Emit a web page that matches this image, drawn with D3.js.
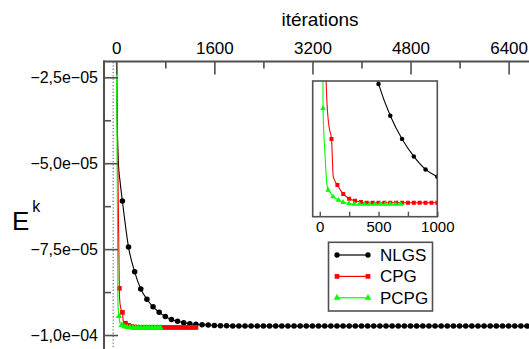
<!DOCTYPE html>
<html><head><meta charset="utf-8">
<script src="https://cdn.jsdelivr.net/npm/d3@7"></script>
<style>body{margin:0;background:#fff;} svg{display:block;font-family:"Liberation Sans",Arial,sans-serif;}</style>
</head><body><svg id="c" width="529" height="349"></svg>
<script>
// ---- data (energies in units of 1e-5) ----
const unit = 1e-5;
const seriesNames = ["NLGS", "CPG", "PCPG"];
const seriesColors = ["#000000", "#ff0000", "#00ff00"];

const nlgsIter = [100,200,300,400,500,600,700,800,900,1000,1100,1200,1300,1400,1500,1600,1700,1800,1900,2000,
  2100,2200,2300,2400,2500,2600,2700,2800,2900,3000,3100,3200,3300,3400,3500,3600,3700,3800,3900,4000,
  4100,4200,4300,4400,4500,4600,4700,4800,4900,5000,5100,5200,5300,5400,5500,5600,5700,5800,5900,6000,
  6100,6200,6300,6400,6500,6600,6700,6800,6900,7000];
const nlgsVal = [-6.10,-7.44,-8.16,-8.66,-8.96,-9.18,-9.34,-9.46,-9.55,-9.60,-9.64,-9.67,-9.69,-9.70,-9.71,-9.72,-9.73,-9.73,-9.74,-9.74,
  -9.74,-9.74,-9.74,-9.74,-9.74,-9.74,-9.74,-9.74,-9.74,-9.74,-9.74,-9.74,-9.74,-9.74,-9.74,-9.74,-9.74,-9.74,-9.74,-9.74,
  -9.74,-9.74,-9.74,-9.74,-9.74,-9.74,-9.74,-9.74,-9.74,-9.74,-9.74,-9.74,-9.74,-9.74,-9.74,-9.74,-9.74,-9.74,-9.74,-9.74,
  -9.74,-9.74,-9.74,-9.74,-9.74,-9.74,-9.74,-9.74,-9.74,-9.74];
const nlgsLeadIter = [0, 10, 20, 35, 60];
const nlgsLeadVal  = [-1.5, -3.2, -4.2, -5.0, -5.5];

const cpgIter = [50,100,150,200,250,300,350,400,450,500,550,600,650,700,750,800,850,900,950,1000,1050,1100,1150,1200,1250,1300];
const cpgVal  = [-8.64,-9.34,-9.657,-9.719,-9.752,-9.766,-9.774,-9.78,-9.78,-9.78,-9.78,-9.78,-9.78,-9.78,-9.78,-9.78,-9.78,-9.78,-9.78,-9.78,-9.78,-9.78,-9.78,-9.78,-9.78,-9.78];
const cpgLeadIter = [0, 55, 70, 80, 115];
const cpgLeadVal  = [-1.15, -8.95, -9.19, -9.26, -9.60];

const pcpgLineIter = [0,28,45,57,71,90,113,135,159,180,198,225,249,300,400,500,600,720];
const pcpgLineVal  = [-0.87,-9.128,-9.45,-9.62,-9.692,-9.71,-9.738,-9.75,-9.761,-9.77,-9.777,-9.78,-9.786,-9.79,-9.79,-9.79,-9.79,-9.79];
const pcpgMainIter = [45,90,135,180,225,270,315,360,405,450,495,540,585,630,675,720];
const pcpgMainVal  = [-9.45,-9.71,-9.75,-9.77,-9.78,-9.79,-9.79,-9.79,-9.79,-9.79,-9.79,-9.79,-9.79,-9.79,-9.79,-9.79];
const pcpgInsetIter = [28,71,113,159,198,249,293,337,381,425,469,513,557,601,645,689];
const pcpgInsetVal  = [-9.128,-9.692,-9.738,-9.761,-9.777,-9.786,-9.79,-9.79,-9.79,-9.79,-9.79,-9.79,-9.79,-9.79,-9.79,-9.79];

const xMajorTicks = [0, 1600, 3200, 4800, 6400];
const xMinorTicks = [800, 2400, 4000, 5600];
const yMajorTicks = [-10, -7.5, -5, -2.5];
const yMinorTicks = [-8.75, -6.25, -3.75];
const yTickLabels = ["\u22121,0e\u221204", "\u22127,5e\u221205", "\u22125,0e\u221205", "\u22122,5e\u221205"];
const insetTicks = [0, 250, 500, 750, 1000];
const insetTickLabels = ["0", "", "500", "", "1000"];
const refLineIter = -50;

// ---- helpers ----
const zip = (a, b) => a.map((v, i) => [v, b[i] * unit]);
const merge = (a, b) => a.concat(b).sort((p, q) => p[0] - q[0]);
const nlgsMarks = zip(nlgsIter, nlgsVal);
const nlgsLine = merge(zip(nlgsLeadIter, nlgsLeadVal), nlgsMarks);
const cpgMarks = zip(cpgIter, cpgVal);
const cpgLine = merge(zip(cpgLeadIter, cpgLeadVal), cpgMarks);
const pcpgLine = zip(pcpgLineIter, pcpgLineVal);
const pcpgMainMarks = zip(pcpgMainIter, pcpgMainVal);
const pcpgInsetMarks = zip(pcpgInsetIter, pcpgInsetVal);

const svg = d3.select('#c');
svg.append('rect').attr('width', 529).attr('height', 349).attr('fill', '#fff');
const defs = svg.append('defs');
const AX = '#505050';

function drawSeries(g, x, y, lines, markSets, sizes) {
  const line = d3.line().x(d => x(d[0])).y(d => y(d[1])).curve(d3.curveMonotoneX);
  const types = [d3.symbolCircle, d3.symbolSquare, d3.symbolTriangle];
  lines.forEach((ld, i) => {
    g.append('path').datum(ld).attr('d', line).attr('fill', 'none')
      .attr('stroke', seriesColors[i]).attr('stroke-width', 1.1);
    g.selectAll(null).data(markSets[i]).enter().append('path')
      .attr('d', d3.symbol().type(types[i]).size(sizes[i]))
      .attr('transform', d => `translate(${x(d[0])},${y(d[1])})`)
      .attr('fill', seriesColors[i]);
  });
}

// ---- main plot ----
const mx = d3.scaleLinear().domain([-200, 7000]).range([104, 545.4]);
const my = d3.scaleLinear().domain([-10.5 * unit, -2.04 * unit]).range([352.2, 61.5]);
defs.append('clipPath').attr('id', 'mclip').append('rect')
  .attr('x', 104).attr('y', 61.5).attr('width', 441.4).attr('height', 290.7);

svg.append('line').attr('x1', mx(refLineIter)).attr('x2', mx(refLineIter))
  .attr('y1', 62).attr('y2', 349).attr('stroke', '#888').attr('stroke-width', 1.4)
  .attr('stroke-dasharray', '1.3,2');

const mg = svg.append('g').attr('clip-path', 'url(#mclip)');
drawSeries(mg, mx, my, [nlgsLine, cpgLine, pcpgLine], [nlgsMarks, cpgMarks, pcpgMainMarks], [24, 22, 18]);

// top axis
const topAx = svg.append('g').attr('transform', 'translate(0,61.5)');
topAx.call(d3.axisTop(mx).tickValues(xMajorTicks).tickSizeInner(-13).tickSizeOuter(0).tickPadding(8).tickFormat(d3.format('d')));
svg.append('g').attr('transform', 'translate(0,61.5)')
  .call(d3.axisTop(mx).tickValues(xMinorTicks).tickSizeInner(-7).tickSizeOuter(0).tickFormat(''))
  .call(g => g.select('.domain').remove());
// left axis
const leftAx = svg.append('g').attr('transform', 'translate(104,0)');
leftAx.call(d3.axisLeft(my).tickValues(yMajorTicks.map(v => v * unit)).tickSizeInner(-14).tickSizeOuter(0).tickPadding(6)
  .tickFormat((d, i) => yTickLabels[i]));
svg.append('g').attr('transform', 'translate(104,0)')
  .call(d3.axisLeft(my).tickValues(yMinorTicks.map(v => v * unit)).tickSizeInner(-7).tickSizeOuter(0).tickFormat(''))
  .call(g => g.select('.domain').remove());
[topAx, leftAx].forEach(g => g.select('.domain').remove());
svg.selectAll('.tick line').attr('stroke', AX).attr('stroke-width', 1.6);
topAx.selectAll('text').attr('font-size', 17).attr('fill', '#000').attr('font-family', '"Liberation Sans",Arial,sans-serif');
leftAx.selectAll('text').attr('font-size', 16).attr('fill', '#000').attr('font-family', '"Liberation Sans",Arial,sans-serif');
// frame
svg.append('line').attr('x1', 104).attr('x2', 104).attr('y1', 60.5).attr('y2', 349).attr('stroke', AX).attr('stroke-width', 2);
svg.append('line').attr('x1', 103).attr('x2', 529).attr('y1', 61.5).attr('y2', 61.5).attr('stroke', AX).attr('stroke-width', 2);

// titles
svg.append('text').attr('x', 320).attr('y', 26).attr('text-anchor', 'middle').attr('font-size', 19).text('itérations');
const ek = svg.append('text').attr('x', 12).attr('y', 230).attr('font-size', 26);
ek.append('tspan').text('E');
ek.append('tspan').attr('font-size', 16).attr('dx', 3).attr('dy', -18).text('k');

// ---- inset ----
const ix = d3.scaleLinear().domain([-60, 1000]).range([312.7, 437.3]);
const iy = d3.scaleLinear().domain([-9.876 * unit, -8.94 * unit]).range([216.7, 81]);
svg.append('rect').attr('x', 312.7).attr('y', 81).attr('width', 124.6).attr('height', 135.7).attr('fill', '#fff');
defs.append('clipPath').attr('id', 'iclip').append('rect')
  .attr('x', 312.7).attr('y', 81).attr('width', 124.6).attr('height', 135.7);
const ig = svg.append('g').attr('clip-path', 'url(#iclip)');
drawSeries(ig, ix, iy, [nlgsLine, cpgLine, pcpgLine], [nlgsMarks, cpgMarks, pcpgInsetMarks], [16, 16, 14]);
const inAx = svg.append('g').attr('transform', 'translate(0,216.7)');
inAx.call(d3.axisBottom(ix).tickValues(insetTicks).tickSizeInner(-5).tickSizeOuter(0).tickPadding(5)
  .tickFormat((d, i) => insetTickLabels[i]));
inAx.select('.domain').remove();
inAx.selectAll('.tick line').attr('stroke', AX).attr('stroke-width', 1.4);
inAx.selectAll('text').attr('font-size', 15).attr('fill', '#000').attr('font-family', '"Liberation Sans",Arial,sans-serif');
svg.append('rect').attr('x', 312.7).attr('y', 81).attr('width', 124.6).attr('height', 135.7)
  .attr('fill', 'none').attr('stroke', AX).attr('stroke-width', 1.6);

// ---- legend ----
const lg = svg.append('g');
lg.append('rect').attr('x', 328.5).attr('y', 242.3).attr('width', 104).attr('height', 68.7)
  .attr('fill', '#fff').attr('stroke', AX).attr('stroke-width', 1.6);
const ltypes = [d3.symbolCircle, d3.symbolSquare, d3.symbolTriangle];
const lsizes = [22, 22, 20];
seriesNames.forEach((name, i) => {
  const yy = 255 + i * 21.4;
  lg.append('line').attr('x1', 337).attr('x2', 368).attr('y1', yy).attr('y2', yy)
    .attr('stroke', seriesColors[i]).attr('stroke-width', 1.2);
  [337, 368].forEach(xx => lg.append('path').attr('d', d3.symbol().type(ltypes[i]).size(lsizes[i]))
    .attr('transform', `translate(${xx},${yy})`).attr('fill', seriesColors[i]));
  lg.append('text').attr('x', 380).attr('y', yy + 6).attr('font-size', 17).text(name);
});
</script></body></html>
